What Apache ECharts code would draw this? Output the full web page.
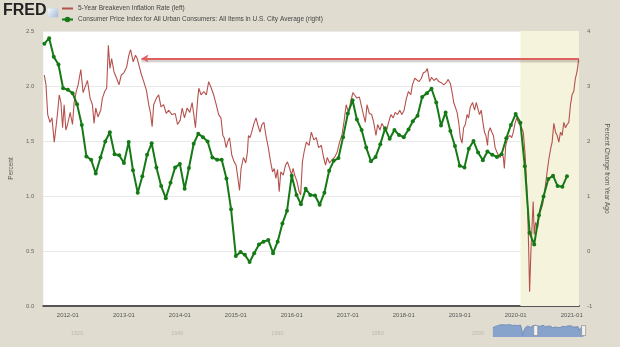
<!DOCTYPE html>
<html><head><meta charset="utf-8">
<script src="https://cdn.jsdelivr.net/npm/echarts@6/dist/echarts.min.js"></script>
<style>html,body{margin:0;padding:0;background:#e0ddd0;}#c{width:620px;height:347px;}</style>
</head><body><div id="c"></div>
<script>
// 5-Year Breakeven Inflation Rate (left axis), positions in decimal years
const redYears = [2011.579,2011.609,2011.640,2011.680,2011.716,2011.757,2011.787,2011.817,2011.846,2011.876,2011.906,2011.934,2011.964,2011.995,
2012.041,2012.083,2012.112,2012.154,2012.183,2012.231,2012.272,2012.307,2012.350,2012.396,2012.438,2012.467,2012.497,2012.538,2012.586,2012.616,2012.657,2012.692,2012.722,2012.751,2012.781,2012.822,2012.870,2012.911,2012.953,2012.999,
2013.047,2013.088,2013.118,2013.166,2013.207,2013.237,2013.278,2013.314,2013.354,2013.402,2013.443,2013.473,2013.504,2013.532,2013.580,2013.621,2013.663,2013.709,2013.757,2013.798,2013.859,2013.917,2013.958,
2014.006,2014.041,2014.082,2014.130,2014.178,2014.219,2014.249,2014.278,2014.320,2014.338,2014.379,2014.427,2014.473,2014.515,2014.562,2014.604,2014.650,2014.693,2014.734,2014.769,2014.792,2014.828,2014.853,2014.888,2014.929,2014.970,
2015.005,2015.030,2015.066,2015.094,2015.137,2015.178,2015.208,2015.226,2015.254,2015.284,2015.325,2015.361,2015.391,2015.432,2015.467,2015.503,2015.538,2015.581,2015.622,2015.657,2015.687,2015.716,2015.746,2015.776,2015.804,2015.847,2015.888,2015.923,2015.964,2015.994,
2016.024,2016.053,2016.095,2016.131,2016.159,2016.190,2016.220,2016.260,2016.308,2016.349,2016.394,2016.438,2016.479,2016.527,2016.568,2016.603,2016.633,2016.674,2016.717,2016.763,2016.811,2016.852,2016.894,2016.930,2016.971,
2017.011,2017.047,2017.090,2017.118,2017.161,2017.207,2017.237,2017.278,2017.313,2017.343,2017.384,2017.427,2017.462,2017.503,2017.533,2017.574,2017.610,2017.651,2017.693,2017.729,2017.770,2017.810,2017.846,2017.888,2017.929,2017.965,
2018.006,2018.048,2018.084,2018.125,2018.155,2018.196,2018.231,2018.272,2018.315,2018.350,2018.391,2018.421,2018.462,2018.497,2018.538,2018.581,2018.627,2018.670,2018.716,2018.758,2018.794,2018.835,2018.865,2018.893,2018.923,2018.953,2018.982,
2019.012,2019.042,2019.070,2019.101,2019.131,2019.159,2019.189,2019.230,2019.266,2019.296,2019.326,2019.354,2019.385,2019.415,2019.443,2019.468,2019.497,2019.514,2019.545,2019.575,2019.603,2019.633,2019.664,2019.692,2019.722,2019.752,2019.780,2019.798,2019.823,2019.859,2019.900,2019.930,2019.958,2019.989,
2020.019,2020.047,2020.077,2020.107,2020.136,2020.166,2020.189,2020.214,2020.232,2020.249,2020.272,2020.295,2020.313,2020.331,2020.356,2020.391,2020.420,2020.450,2020.480,2020.509,2020.539,2020.569,2020.597,2020.628,2020.651,2020.681,2020.711,2020.740,2020.770,2020.800,2020.829,2020.859,2020.889,2020.918,2020.948,2020.978,
2021.006,2021.036,2021.066,2021.095,2021.124];
const redValues = [2.10,2.01,1.74,1.67,1.71,1.49,1.62,1.76,1.92,1.85,1.62,1.83,1.60,1.65,
1.76,1.65,1.85,1.96,2.01,2.15,1.94,1.99,2.05,1.89,1.83,1.66,1.80,1.72,1.78,1.89,1.95,1.98,2.37,2.16,2.25,2.13,2.07,2.01,2.10,2.12,
2.17,2.28,2.33,2.22,2.28,2.25,2.17,2.10,2.04,1.96,1.83,1.76,1.63,1.83,1.89,1.92,1.81,1.83,1.75,1.78,1.74,1.75,1.65,
1.69,1.80,1.71,1.80,1.76,1.85,1.74,1.62,1.89,1.98,1.92,1.95,1.92,2.04,1.98,1.92,1.83,1.74,1.71,1.55,1.53,1.44,1.49,1.53,1.37,1.31,
1.28,1.19,1.05,1.25,1.35,1.30,1.40,1.55,1.53,1.58,1.66,1.71,1.65,1.58,1.65,1.67,1.55,1.44,1.31,1.22,1.25,1.16,1.24,1.04,1.22,1.19,1.28,1.31,1.25,1.19,
1.25,1.19,1.13,1.04,1.01,1.31,1.40,1.49,1.46,1.58,1.51,1.53,1.44,1.46,1.35,1.28,1.35,1.30,1.33,1.35,1.40,1.49,1.55,1.67,1.83,
1.76,1.85,1.94,1.92,1.89,1.90,1.83,1.74,1.67,1.83,1.75,1.74,1.67,1.55,1.65,1.60,1.66,1.62,1.60,1.67,1.74,1.71,1.76,1.74,1.78,1.74,
1.78,1.89,1.95,1.92,2.01,2.07,2.08,2.04,2.07,2.12,2.13,2.16,2.04,2.08,2.05,2.07,2.04,2.03,2.01,2.03,2.06,2.02,1.94,1.85,1.85,1.76,1.67,
1.53,1.48,1.62,1.65,1.74,1.71,1.81,1.85,1.78,1.85,1.85,1.74,1.78,1.67,1.58,1.55,1.46,1.58,1.62,1.58,1.55,1.44,1.40,1.37,1.35,1.40,1.35,1.25,1.46,1.53,1.55,1.53,1.58,1.66,
1.71,1.67,1.66,1.62,1.58,1.40,1.19,0.89,0.53,0.13,0.49,0.76,0.95,0.65,0.76,0.71,0.83,0.83,0.92,1.01,1.13,1.25,1.35,1.44,1.49,1.66,1.58,1.55,1.49,1.58,1.55,1.67,1.62,1.65,1.67,1.83,
1.92,1.95,2.07,2.13,2.24];

// CPI, percent change from year ago (right axis), monthly from 2011-08
const cpiStartYear = 2011, cpiStartMonth = 8;
const cpiValues = [3.77,3.87,3.53,3.39,2.96,
2.93,2.87,2.67,2.29,1.72,1.66,1.41,1.70,1.99,2.16,1.76,1.74,
1.60,1.98,1.47,1.06,1.36,1.75,1.96,1.52,1.18,0.96,1.24,1.52,
1.58,1.13,1.51,1.95,2.13,2.07,1.99,1.70,1.66,1.66,1.32,0.76,
-0.09,-0.02,-0.07,-0.20,-0.04,0.12,0.17,0.20,-0.04,0.17,0.50,0.73,
1.37,1.02,0.85,1.13,1.02,1.01,0.84,1.06,1.46,1.64,1.69,2.07,
2.50,2.74,2.39,2.20,1.88,1.63,1.71,1.94,2.23,2.04,2.20,2.11,
2.07,2.21,2.36,2.46,2.80,2.87,2.95,2.70,2.28,2.52,2.18,1.91,
1.55,1.52,1.86,2.00,1.79,1.65,1.81,1.75,1.71,1.76,2.05,2.29,
2.49,2.33,1.54,0.33,0.12,0.65,0.99,1.31,1.37,1.18,1.17,1.36];

const xTickYears = [2012,2013,2014,2015,2016,2017,2018,2019,2020,2021];
const recessionStart = [2020, 2, 1];
const arrowLevel = 2.25;        // left-axis level of annotation arrow
const arrowTarget = 2013.314;   // where the arrow points (decimal year)

// navigator thumbnail (breakeven history), decimal years
const navYears = [2003.0,2003.5,2004.0,2004.5,2005.0,2005.5,2006.0,2006.5,2007.0,2007.5,2008.0,2008.5,2008.8,2008.95,2009.2,2009.5,2010.0,2010.5,2011.0,2011.5,2012.0,2012.5,2013.0,2013.5,2014.0,2014.5,2015.0,2015.5,2016.0,2016.5,2017.0,2017.5,2018.0,2018.5,2019.0,2019.5,2020.0,2020.2,2020.5,2021.0,2021.1];
const navValues = [1.3,1.8,2.1,2.5,2.5,2.4,2.5,2.5,2.2,2.3,2.1,2.4,0.5,-2.0,0.0,1.3,2.0,1.4,2.1,2.3,1.9,1.9,2.3,1.7,1.9,1.9,1.2,1.6,1.3,1.4,1.9,1.7,2.0,2.1,1.6,1.6,1.7,0.2,1.1,2.0,2.2];
const navLabels = [1920,1940,1960,1980,2000];

function yr(t){ const y=Math.floor(t); const s=Date.UTC(y,0,1), e=Date.UTC(y+1,0,1); return s+(t-y)*(e-s); }
const xMin = yr(2011.56), xMax = yr(2021.13);

const redData = redYears.map((t,i)=>[yr(t), redValues[i]]);
const cpiData = cpiValues.map((v,i)=>[Date.UTC(cpiStartYear, cpiStartMonth-1+i, 1), v]);
const navData = navYears.map((t,i)=>[t, navValues[i]]);

const RED_NAME = '5-Year Breakeven Inflation Rate (left)';
const GREEN_NAME = 'Consumer Price Index for All Urban Consumers: All Items in U.S. City Average (right)';
const FONT = 'Liberation Sans, Arial, sans-serif';
const chart = echarts.init(document.getElementById('c'), null, {renderer:'canvas'});
chart.setOption({
  backgroundColor: '#e0ddd0',
  animation: false,
  textStyle: {fontFamily: FONT},
  graphic: [
    {type:'text', left:3, top:3, style:{text:'FRED', font:'bold 16px '+FONT, fill:'#222'}},
    {type:'rect', left:47, top:8, shape:{width:11,height:9},
     style:{fill:new echarts.graphic.LinearGradient(0,0,1,1,[{offset:0,color:'#ffffff'},{offset:1,color:'#9fb6d4'}]), stroke:'#c8d3e0', lineWidth:0.5}}
  ],
  legend: {
    orient:'vertical', left:61, top:5, padding:0, itemWidth:11, itemHeight:7, itemGap:4,
    textStyle:{fontSize:6.5, color:'#444', fontFamily:FONT},
    data:[{name:RED_NAME, itemStyle:{opacity:0}}, {name:GREEN_NAME}]
  },
  grid: [
    {left:40, right:41, top:31, bottom:41, show:true, backgroundColor:'#ffffff', borderWidth:0},
    {left:40, right:36, top:324, height:13}
  ],
  xAxis: [
    {type:'value', gridIndex:0, min:xMin, max:xMax,
     axisLine:{show:true, onZero:false, lineStyle:{color:'#555', width:2}},
     axisTick:{show:false}, splitLine:{show:false},
     axisLabel:{customValues: xTickYears.map(y=>Date.UTC(y,0,1)), color:'#555', fontSize:6, margin:6,
       formatter:(v)=> new Date(v).getUTCFullYear()+'-01'}},
    {type:'value', gridIndex:1, min:1912.6, max:2021.2,
     axisLine:{show:false}, axisTick:{show:false}, splitLine:{show:false},
     axisLabel:{customValues: navLabels, inside:true, margin:1, color:'#bdb9aa', fontSize:5.5, formatter:(v)=>String(v)}}
  ],
  yAxis: [
    {type:'value', gridIndex:0, min:0, max:2.5, interval:0.5, position:'left',
     axisLine:{show:false}, axisTick:{show:false},
     splitLine:{lineStyle:{color:'#e8e8e8', width:1}},
     axisLabel:{color:'#666', fontSize:6, margin:9, formatter:(v)=>v.toFixed(1)},
     name:'Percent', nameLocation:'middle', nameGap:26, nameTextStyle:{color:'#555', fontSize:6.5}},
    {type:'value', gridIndex:0, min:-1, max:4, interval:1, position:'right',
     axisLine:{show:false}, axisTick:{show:false}, splitLine:{show:false},
     axisLabel:{color:'#666', fontSize:6, margin:8},
     name:'Percent Change from Year Ago', nameLocation:'middle', nameGap:22, nameRotate:-90,
     nameTextStyle:{color:'#555', fontSize:6.5}},
    {type:'value', gridIndex:1, min:-2.6, max:2.8, show:false}
  ],
  series: [
    {name:RED_NAME, type:'line', xAxisIndex:0, yAxisIndex:0,
     data:redData, symbol:'none', lineStyle:{color:'#b5524d', width:1.1}, itemStyle:{color:'#b5524d'},
     markArea:{silent:true, itemStyle:{color:'#f5f3dc'},
       data:[[{xAxis:Date.UTC(recessionStart[0],recessionStart[1]-1,recessionStart[2])},{xAxis:xMax}]]},
     markLine:{silent:true, symbol:['none','arrow'], symbolSize:[6,7],
       lineStyle:{color:'#e05f5f', width:2, type:'solid', shadowColor:'rgba(0,0,0,0.25)', shadowBlur:2, shadowOffsetY:2},
       label:{show:false},
       data:[[{coord:[xMax, arrowLevel]},{coord:[yr(arrowTarget), arrowLevel]}]]},
     z:2},
    {name:GREEN_NAME, type:'line',
     xAxisIndex:0, yAxisIndex:1, data:cpiData, symbol:'circle', symbolSize:4, showSymbol:true,
     lineStyle:{color:'#157a15', width:2}, itemStyle:{color:'#157a15'}, z:3},
    {name:'nav', type:'line', xAxisIndex:1, yAxisIndex:2, data:navData, symbol:'none',
     lineStyle:{color:'#6686b8', width:0.8}, areaStyle:{color:'#87a2cb', origin:'start', opacity:1},
     markPoint:{silent:true, symbol:'rect', symbolSize:[4,10], label:{show:false},
       itemStyle:{color:'#f2f2f2', borderColor:'#8a8a8a', borderWidth:0.6},
       data:[{coord:[2011.56, 0.1]},{coord:[2021.13, 0.1]}]}}
  ]
});
</script></body></html>
